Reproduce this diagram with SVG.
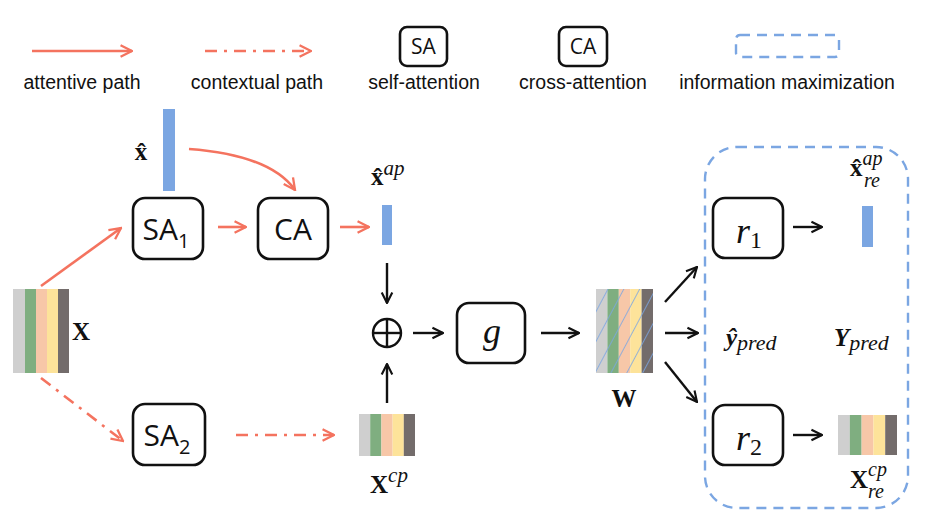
<svg xmlns="http://www.w3.org/2000/svg" width="931" height="523" viewBox="0 0 931 523">
<defs>
<style>
.lbl{font-family:"Liberation Sans",Arial,sans-serif;font-size:19.5px;fill:#111;text-anchor:middle}
.box{fill:#fff;stroke:#111;stroke-width:2.6}
.btxt{font-family:"Open Sans","Liberation Sans",sans-serif;font-size:30px;fill:#111;text-anchor:middle}
.ltxt{font-family:"Open Sans","Liberation Sans",sans-serif;font-size:21px;fill:#111;text-anchor:middle}
.att{stroke:#f4735f;stroke-width:2.6;fill:none}
.ctx{stroke:#f4735f;stroke-width:2.6;fill:none;stroke-dasharray:12 7 3 7}
.blk{stroke:#111;stroke-width:2.4;fill:none}
.math{font-family:"Liberation Serif","DejaVu Serif",serif;fill:#111}
.bar{fill:#7ba6e2}
.im{fill:none;stroke:#7ba6e2;stroke-width:2.4;stroke-dasharray:10 7}
</style>
<marker id="ao" viewBox="0 0 10 10" refX="9" refY="5" markerWidth="5.5" markerHeight="5.5" orient="auto" markerUnits="strokeWidth"><path d="M1,1 L9,5 L1,9" fill="none" stroke="#f4735f" stroke-width="1.6"/></marker>
<marker id="ab" viewBox="0 0 10 10" refX="9" refY="5" markerWidth="5.5" markerHeight="5.5" orient="auto" markerUnits="strokeWidth"><path d="M1,1 L9,5 L1,9" fill="none" stroke="#111" stroke-width="1.6"/></marker>
<pattern id="hatch" patternUnits="userSpaceOnUse" width="14" height="14" patternTransform="rotate(28)">
<line x1="0" y1="0" x2="0" y2="14" stroke="#7ba6e2" stroke-width="1.6"/>
</pattern>
</defs>
<rect width="931" height="523" fill="#fff"/>

<g id="legend">
<line class="att" x1="32" y1="51" x2="132" y2="51" marker-end="url(#ao)"/>
<text class="lbl" x="82" y="89">attentive path</text>
<line class="ctx" x1="205" y1="51" x2="311" y2="51" marker-end="url(#ao)"/>
<text class="lbl" x="257" y="89">contextual path</text>
<rect class="box" x="400" y="27" width="47" height="39" rx="7" stroke-width="2.2"/>
<text class="ltxt" x="423.5" y="54">SA</text>
<text class="lbl" x="424" y="89">self-attention</text>
<rect class="box" x="559" y="27" width="48" height="39" rx="7" stroke-width="2.2"/>
<text class="ltxt" x="583" y="54">CA</text>
<text class="lbl" x="583" y="89">cross-attention</text>
<rect class="im" x="736" y="35" width="103" height="22" rx="4"/>
<text class="lbl" x="787" y="89">information maximization</text>
</g>

<g id="x-input">
<rect x="13" y="289" width="12" height="84" fill="#cfcfcf"/>
<rect x="25" y="289" width="11" height="84" fill="#7fae80"/>
<rect x="36" y="289" width="11" height="84" fill="#f7c7a8"/>
<rect x="47" y="289" width="11" height="84" fill="#fde39a"/>
<rect x="58" y="289" width="11" height="84" fill="#736c6b"/>
<text class="math" x="72" y="340" font-size="25" font-weight="bold">X</text>
</g>

<g id="xhat">
<rect class="bar" x="163" y="109" width="12" height="82"/>
<text class="math" x="141" y="160" font-size="25" font-weight="bold" text-anchor="middle">x̂</text>
</g>

<g id="SA1">
<rect class="box" x="133" y="198" width="70" height="61" rx="12"/>
<text class="btxt" x="166" y="240">SA<tspan font-size="20" dy="8">1</tspan></text>
</g>
<g id="CA">
<rect class="box" x="258" y="198" width="70" height="61" rx="12"/>
<text class="btxt" x="293" y="240">CA</text>
</g>
<g id="xap">
<rect class="bar" x="382" y="205" width="10" height="40"/>
<text class="math" x="371" y="185" font-size="25" font-weight="bold">x̂<tspan font-weight="normal" font-style="italic" font-size="21" dy="-10">ap</tspan></text>
</g>

<g id="SA2">
<rect class="box" x="133" y="404" width="72" height="61" rx="12"/>
<text class="btxt" x="167" y="446">SA<tspan font-size="20" dy="8">2</tspan></text>
</g>
<g id="xcp">
<rect x="359" y="414" width="11.2" height="42" fill="#cfcfcf"/>
<rect x="370.2" y="414" width="11.2" height="42" fill="#7fae80"/>
<rect x="381.4" y="414" width="11.2" height="42" fill="#f7c7a8"/>
<rect x="392.6" y="414" width="11.2" height="42" fill="#fde39a"/>
<rect x="403.8" y="414" width="11.2" height="42" fill="#736c6b"/>
<text class="math" x="370" y="493" font-size="25" font-weight="bold">X<tspan font-weight="normal" font-style="italic" font-size="21" dy="-11">cp</tspan></text>
</g>

<g id="oplus">
<circle cx="387" cy="333" r="14" fill="none" stroke="#111" stroke-width="2.4"/>
<line x1="373" y1="333" x2="401" y2="333" stroke="#111" stroke-width="2.4"/>
<line x1="387" y1="319" x2="387" y2="347" stroke="#111" stroke-width="2.4"/>
</g>

<g id="g">
<rect class="box" x="457" y="303" width="68" height="60" rx="12"/>
<text class="math" x="492" y="343" font-size="36" font-style="italic" text-anchor="middle">g</text>
</g>

<g id="W">
<rect x="596" y="289" width="11.4" height="84" fill="#cfcfcf"/>
<rect x="607.4" y="289" width="11.4" height="84" fill="#7fae80"/>
<rect x="618.8" y="289" width="11.4" height="84" fill="#f7c7a8"/>
<rect x="630.2" y="289" width="11.4" height="84" fill="#fde39a"/>
<rect x="641.6" y="289" width="11.4" height="84" fill="#736c6b"/>
<rect x="596" y="289" width="57" height="84" fill="url(#hatch)"/>
<text class="math" x="624" y="407" font-size="25" font-weight="bold" text-anchor="middle">W</text>
</g>

<g id="infomax">
<rect class="im" x="705" y="147" width="203" height="361" rx="32"/>
</g>

<g id="r1">
<rect class="box" x="713" y="198" width="70" height="60" rx="12"/>
<text class="math" x="736" y="243" font-size="36" font-style="italic">r<tspan font-style="normal" font-size="24" dy="5">1</tspan></text>
</g>
<g id="xap-re">
<rect class="bar" x="862" y="206" width="11" height="41"/>
<text class="math" x="850" y="176" font-size="25" font-weight="bold">x̂<tspan font-weight="normal" font-style="italic" font-size="20" dy="-11">ap</tspan></text>
<text class="math" x="864" y="187" font-size="20" font-style="italic">re</text>
</g>
<g id="ypred-hat">
<text class="math" x="726" y="346" font-size="25" font-weight="bold" font-style="italic">ŷ<tspan font-weight="normal" font-size="22" dy="4">pred</tspan></text>
</g>
<g id="Ypred">
<text class="math" x="834" y="346" font-size="25" font-weight="bold" font-style="italic">Y<tspan font-weight="normal" font-size="22" dy="4">pred</tspan></text>
</g>
<g id="r2">
<rect class="box" x="713" y="405" width="70" height="60" rx="12"/>
<text class="math" x="736" y="450" font-size="36" font-style="italic">r<tspan font-style="normal" font-size="24" dy="5">2</tspan></text>
</g>
<g id="xcp-re">
<rect x="838" y="415" width="11.8" height="40" fill="#cfcfcf"/>
<rect x="849.8" y="415" width="11.8" height="40" fill="#7fae80"/>
<rect x="861.6" y="415" width="11.8" height="40" fill="#f7c7a8"/>
<rect x="873.4" y="415" width="11.8" height="40" fill="#fde39a"/>
<rect x="885.2" y="415" width="11.8" height="40" fill="#736c6b"/>
<text class="math" x="850" y="488" font-size="25" font-weight="bold">X<tspan font-weight="normal" font-style="italic" font-size="20" dy="-12">cp</tspan></text>
<text class="math" x="868" y="498" font-size="20" font-style="italic">re</text>
</g>

<g id="connectors">
<line class="att" x1="41" y1="286" x2="121" y2="228" marker-end="url(#ao)"/>
<path class="att" d="M189,149 Q270,155 295,190" marker-end="url(#ao)"/>
<line class="att" x1="218" y1="227" x2="246" y2="227" marker-end="url(#ao)"/>
<line class="att" x1="340" y1="227" x2="369" y2="227" marker-end="url(#ao)"/>
<line class="ctx" x1="41" y1="378" x2="123" y2="441" marker-end="url(#ao)"/>
<line class="ctx" x1="236" y1="435" x2="334" y2="435" marker-end="url(#ao)"/>
<line class="blk" x1="387" y1="263" x2="387" y2="303" marker-end="url(#ab)"/>
<line class="blk" x1="387" y1="403" x2="387" y2="364" marker-end="url(#ab)"/>
<line class="blk" x1="413" y1="333" x2="443" y2="333" marker-end="url(#ab)"/>
<line class="blk" x1="541" y1="333" x2="579" y2="333" marker-end="url(#ab)"/>
<line class="blk" x1="665" y1="302" x2="697" y2="267" marker-end="url(#ab)"/>
<line class="blk" x1="665" y1="333" x2="698" y2="333" marker-end="url(#ab)"/>
<line class="blk" x1="665" y1="362" x2="697" y2="402" marker-end="url(#ab)"/>
<line class="blk" x1="793" y1="227" x2="822" y2="227" marker-end="url(#ab)"/>
<line class="blk" x1="793" y1="435" x2="822" y2="435" marker-end="url(#ab)"/>
</g>
</svg>
